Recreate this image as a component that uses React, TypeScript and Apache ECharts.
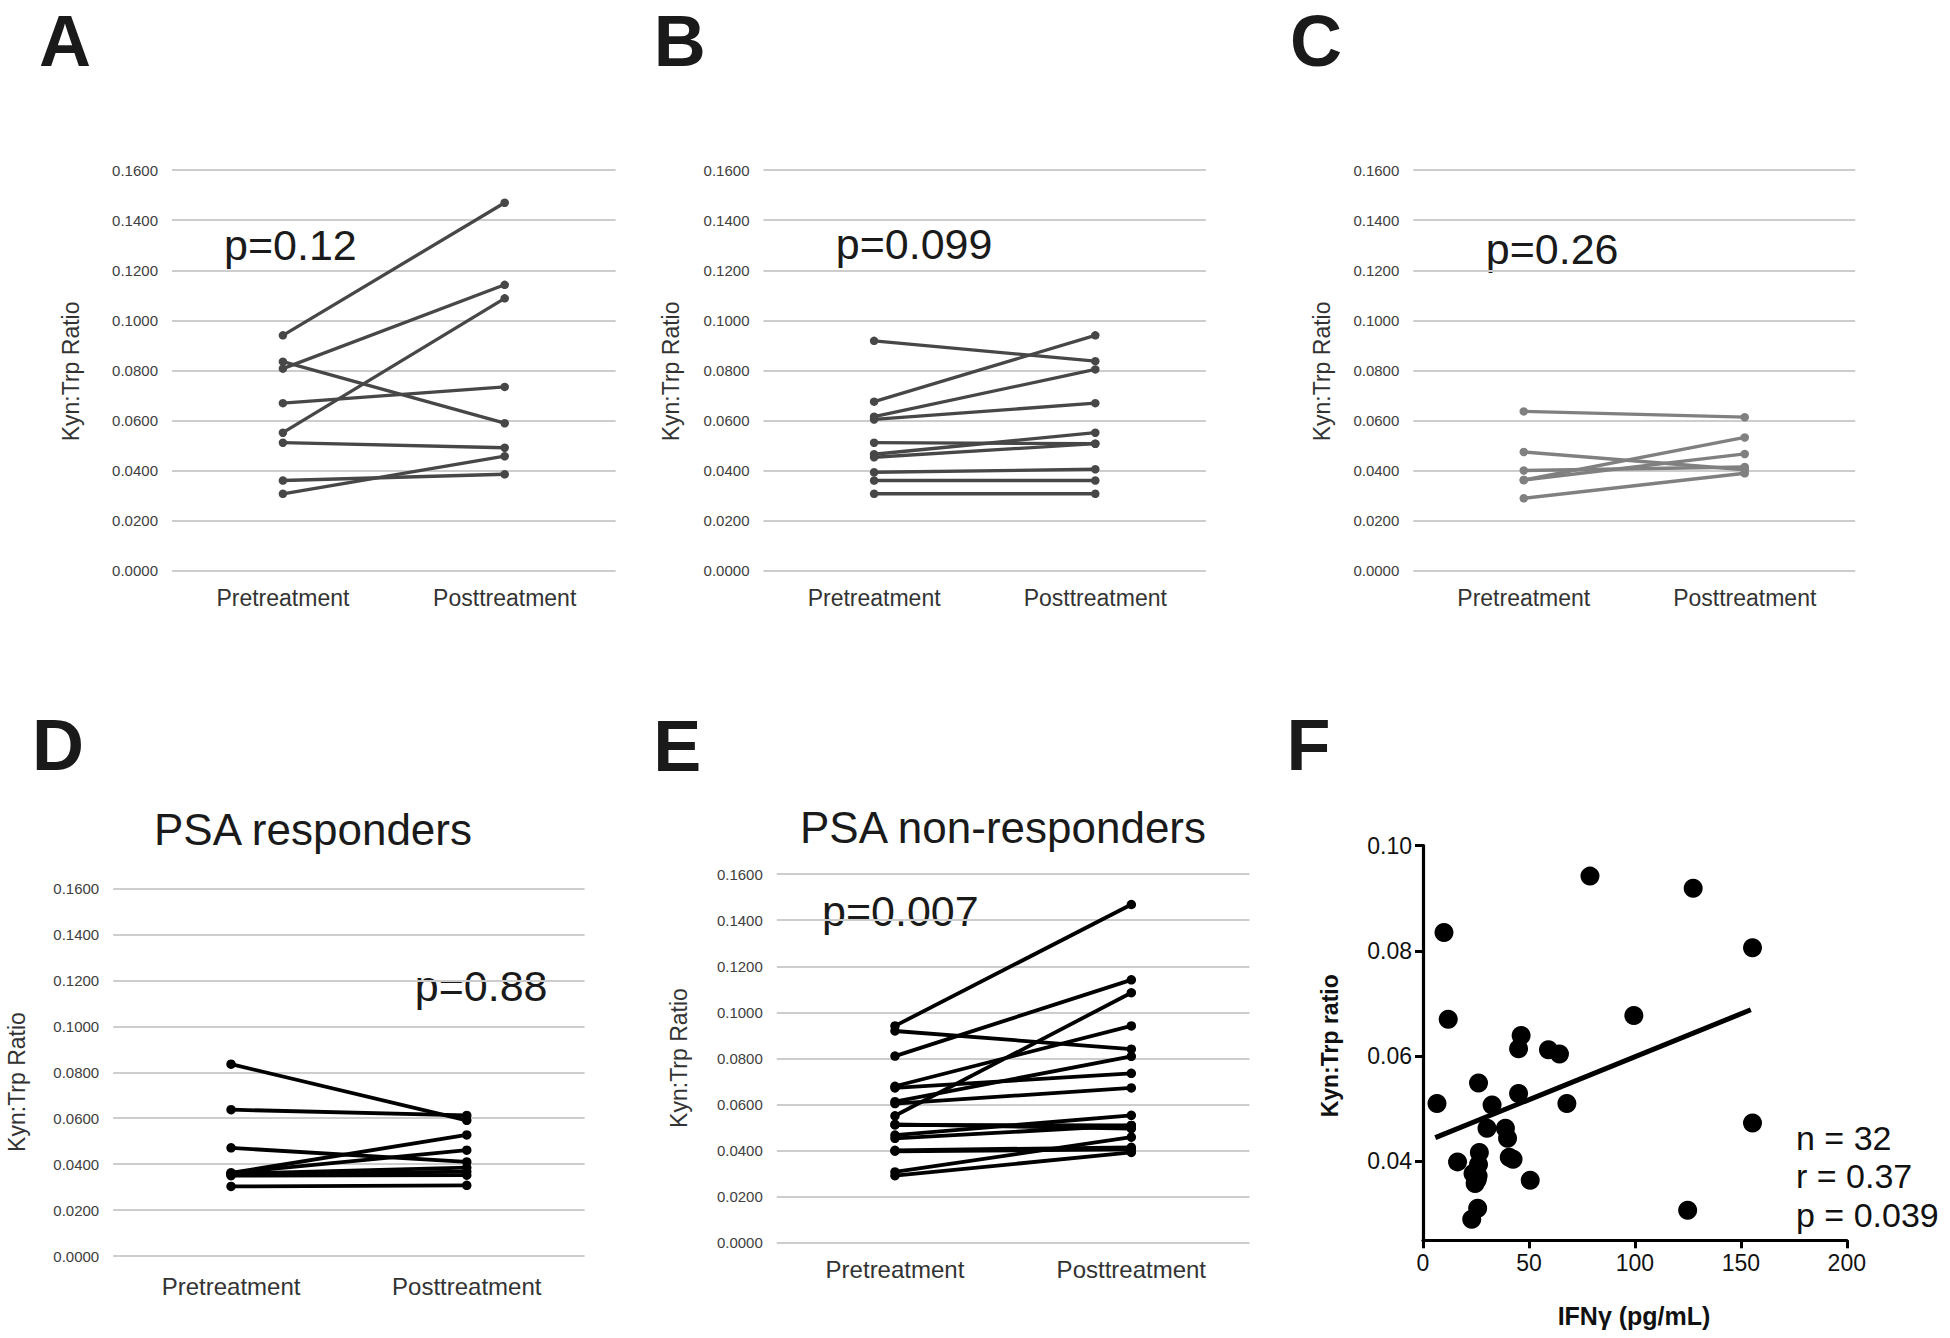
import React, { useEffect, useRef } from "react";
import * as echarts from "echarts";

// ---------- data ----------
const CATEGORIES = ["Pretreatment", "Posttreatment"];
const Y_AXIS_NAME = "Kyn:Trp Ratio";

const A_PRE = [0.094, 0.0807, 0.0835, 0.0669, 0.0551, 0.0511, 0.036, 0.0307];
const A_POST = [0.147, 0.1142, 0.0589, 0.0734, 0.1088, 0.0491, 0.0385, 0.0457];

const B_PRE = [0.0918, 0.0675, 0.0615, 0.0604, 0.0511, 0.0465, 0.0453, 0.0393, 0.036, 0.0307];
const B_POST = [0.0837, 0.094, 0.0804, 0.0669, 0.0507, 0.0551, 0.0507, 0.0405, 0.036, 0.0307];

const C_PRE = [0.0636, 0.0474, 0.04, 0.0362, 0.0362, 0.0289];
const C_POST = [0.0613, 0.0403, 0.0414, 0.0532, 0.0466, 0.0389];

const D_PRE = [0.0835, 0.0637, 0.0471, 0.0362, 0.0362, 0.0358, 0.0355, 0.035, 0.0303];
const D_POST = [0.0591, 0.0612, 0.041, 0.0527, 0.0461, 0.0385, 0.0368, 0.0352, 0.0308];

const E_PRE = [0.0941, 0.081, 0.0919, 0.0679, 0.0672, 0.0612, 0.0604, 0.0551, 0.0514, 0.0511, 0.0467, 0.0453, 0.0397, 0.0401, 0.0307, 0.0291];
const E_POST = [0.1468, 0.1141, 0.084, 0.0941, 0.0735, 0.0809, 0.0672, 0.1085, 0.0495, 0.0509, 0.0553, 0.0509, 0.0405, 0.0414, 0.0458, 0.0392];

const F_IFNG = [78.8, 127.5, 9.9, 155.5, 11.9, 99.5, 46.3, 45.1, 59.2, 64.4, 26.2, 6.6, 45.1, 32.6, 67.9, 30.2, 38.9, 39.9, 155.5, 16.3, 26.6, 26.2, 23.6, 25.6, 24.6, 40.7, 42.5, 50.6, 25.8, 23.0, 124.9, 26.0];
const F_RATIO = [0.0942, 0.0919, 0.0835, 0.0806, 0.067, 0.0677, 0.0639, 0.0614, 0.0612, 0.0604, 0.0549, 0.051, 0.0529, 0.0507, 0.051, 0.0463, 0.0463, 0.0444, 0.0473, 0.0399, 0.0417, 0.0394, 0.0377, 0.0365, 0.0358, 0.0408, 0.0404, 0.0364, 0.0311, 0.029, 0.0307, 0.0372];
const F_FIT_X = [5.8, 154.7];
const F_FIT_Y = [0.0445, 0.0688];
const F_Y_TICKS = [0.04, 0.06, 0.08, 0.1];
const F_X_TICKS = [0, 50, 100, 150, 200];

const P_TEXTS = ["p=0.12", "p=0.099", "p=0.26", "p=0.88", "p=0.007"];
const TITLES = ["PSA responders", "PSA non-responders"];
const STATS = ["n = 32", "r = 0.37", "p = 0.039"];
const LETTERS = ["A", "B", "C", "D", "E", "F"];

const FONT = "'Liberation Sans', Arial, Helvetica, sans-serif";

// ---------- layout ----------
const PANELS = [
  { pre: A_PRE, post: A_POST, color: "#474747", lw: 3.3, sym: 8.5, xfs: 23, grid: { left: 172, top: 170.2, width: 443.6, height: 400.4 }, margin: 16 },
  { pre: B_PRE, post: B_POST, color: "#474747", lw: 3.3, sym: 8.5, xfs: 23, grid: { left: 763.5, top: 170.2, width: 442.4, height: 400.4 }, margin: 16 },
  { pre: C_PRE, post: C_POST, color: "#808080", lw: 3.3, sym: 8.5, xfs: 23, grid: { left: 1413.3, top: 170.2, width: 441.9, height: 400.4 }, margin: 16 },
  { pre: D_PRE, post: D_POST, color: "#000000", lw: 3.8, sym: 9.5, xfs: 24, grid: { left: 113.2, top: 888.4, width: 471.4, height: 367.7 }, margin: 18 },
  { pre: E_PRE, post: E_POST, color: "#000000", lw: 3.8, sym: 9.5, xfs: 24, grid: { left: 776.8, top: 874.1, width: 472.7, height: 368.6 }, margin: 15 },
];
const F_GRID = { left: 1423, top: 845.6, width: 423.8, height: 394.7 };

export default function App() {
  const ref = useRef<HTMLDivElement>(null);

  useEffect(() => {
    if (!ref.current) return;
    const chart = echarts.init(ref.current, undefined, { renderer: "svg" });

    const grids: any[] = [];
    const xAxes: any[] = [];
    const yAxes: any[] = [];
    const series: any[] = [];

    PANELS.forEach((p, k) => {
      grids.push({ ...p.grid, containLabel: false });
      xAxes.push({
        type: "category",
        gridIndex: k,
        data: CATEGORIES,
        boundaryGap: true,
        axisLine: { show: false },
        axisTick: { show: false },
        axisLabel: { fontFamily: FONT, fontSize: p.xfs, color: "#333333", margin: p.margin },
        splitLine: { show: false },
      });
      yAxes.push({
        type: "value",
        gridIndex: k,
        min: 0,
        max: 0.16,
        interval: 0.02,
        axisLine: { show: false },
        axisTick: { show: false },
        axisLabel: {
          fontFamily: FONT,
          fontSize: 15,
          color: "#404040",
          margin: 14,
          formatter: (v: number) => v.toFixed(4),
        },
        splitLine: { show: true, lineStyle: { color: "#cdcdcd", width: 1.8 } },
      });
      for (let i = 0; i < p.pre.length; i++) {
        series.push({
          type: "line",
          xAxisIndex: k,
          yAxisIndex: k,
          data: [p.pre[i], p.post[i]],
          symbol: "circle",
          symbolSize: p.sym,
          lineStyle: { color: p.color, width: p.lw },
          itemStyle: { color: p.color, opacity: 1 },
          silent: true,
        });
      }
    });

    // Panel F
    grids.push({ ...F_GRID, containLabel: false });
    xAxes.push({
      type: "value",
      gridIndex: 5,
      min: F_X_TICKS[0],
      max: F_X_TICKS[F_X_TICKS.length - 1],
      interval: 50,
      axisLine: { show: true, onZero: false, lineStyle: { color: "#000", width: 3.2 } },
      axisTick: { show: true, length: 8, lineStyle: { color: "#000", width: 3 } },
      axisLabel: { fontFamily: FONT, fontSize: 23, color: "#111", margin: 11 },
      splitLine: { show: false },
    });
    yAxes.push({
      type: "value",
      gridIndex: 5,
      min: 0.025,
      max: 0.1,
      axisLine: { show: true, onZero: false, lineStyle: { color: "#000", width: 3.2 } },
      axisTick: { show: true, length: 8, customValues: F_Y_TICKS, lineStyle: { color: "#000", width: 3 } },
      axisLabel: {
        fontFamily: FONT,
        fontSize: 23,
        color: "#111",
        margin: 11,
        customValues: F_Y_TICKS,
        formatter: (v: number) => v.toFixed(2),
      },
      splitLine: { show: false },
    });
    series.push({
      type: "scatter",
      xAxisIndex: 5,
      yAxisIndex: 5,
      data: F_IFNG.map((x, i) => [x, F_RATIO[i]]),
      symbol: "circle",
      symbolSize: 19,
      itemStyle: { color: "#000", opacity: 1 },
      silent: true,
    });
    series.push({
      type: "line",
      xAxisIndex: 5,
      yAxisIndex: 5,
      data: F_FIT_X.map((x, i) => [x, F_FIT_Y[i]]),
      symbol: "none",
      lineStyle: { color: "#000", width: 5 },
      silent: true,
    });

    const letterPos = [
      [39, 41], [653.7, 41], [1290, 41],
      [32, 745], [653.2, 746], [1286.5, 745],
    ];
    const pPos = [
      [224, 244.5], [835.8, 244.3], [1485.8, 248.6], [414.8, 986.3], [822, 911.1],
    ];
    const yNamePos = [
      [70.5, 371.4], [671, 371.4], [1321.6, 371.4], [17.4, 1082], [679.4, 1058],
    ];

    const graphic: any[] = [];
    LETTERS.forEach((t, i) => {
      graphic.push({
        type: "text",
        x: letterPos[i][0],
        y: letterPos[i][1],
        style: { text: t, font: `bold 72px ${FONT}`, lineHeight: 56, fill: "#1a1a1a", align: "left", verticalAlign: "middle" },
      });
    });
    P_TEXTS.forEach((t, i) => {
      graphic.push({
        type: "text",
        x: pPos[i][0],
        y: pPos[i][1],
        style: { text: t, font: `43px ${FONT}`, fill: "#1a1a1a", align: "left", verticalAlign: "middle" },
      });
    });
    yNamePos.forEach((pos) => {
      graphic.push({
        type: "text",
        x: pos[0],
        y: pos[1],
        rotation: Math.PI / 2,
        style: { text: Y_AXIS_NAME, font: `23px ${FONT}`, fill: "#333333", align: "center", verticalAlign: "middle" },
      });
    });
    graphic.push({
      type: "text",
      x: 313,
      y: 829,
      style: { text: TITLES[0], font: `44px ${FONT}`, fill: "#1a1a1a", align: "center", verticalAlign: "middle" },
    });
    graphic.push({
      type: "text",
      x: 1003,
      y: 827,
      style: { text: TITLES[1], font: `44px ${FONT}`, fill: "#1a1a1a", align: "center", verticalAlign: "middle" },
    });
    // Panel F axis names
    graphic.push({
      type: "text",
      x: 1330,
      y: 1045.8,
      rotation: Math.PI / 2,
      style: { text: "Kyn:Trp ratio", font: `bold 23px ${FONT}`, fill: "#111", align: "center", verticalAlign: "middle" },
    });
    graphic.push({
      type: "text",
      x: 1634,
      y: 1316,
      style: { text: "IFNγ (pg/mL)", font: `bold 25px ${FONT}`, fill: "#111", align: "center", verticalAlign: "middle" },
    });
    const statY = [1137.8, 1176.4, 1215.1];
    STATS.forEach((t, i) => {
      graphic.push({
        type: "text",
        x: 1796,
        y: statY[i],
        style: { text: t, font: `34px ${FONT}`, fill: "#111", align: "left", verticalAlign: "middle" },
      });
    });

    chart.setOption({
      animation: false,
      backgroundColor: "#ffffff",
      grid: grids,
      xAxis: xAxes,
      yAxis: yAxes,
      series,
      graphic,
    });

    return () => chart.dispose();
  }, []);

  return (
    <div
      ref={ref}
      style={{ position: "absolute", left: 0, top: 0, width: 1950, height: 1338, background: "#fff" }}
    />
  );
}
